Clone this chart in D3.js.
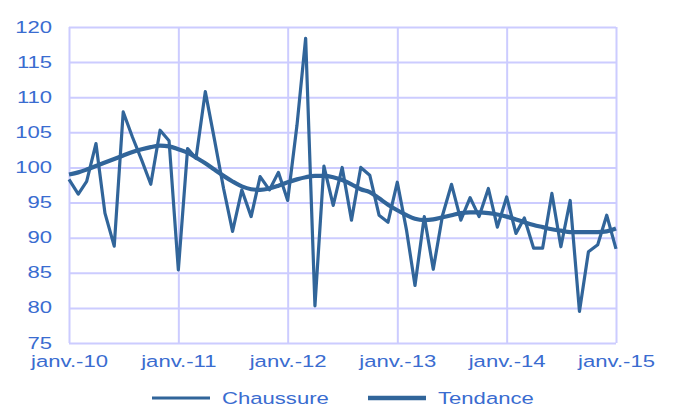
<!DOCTYPE html>
<html>
<head>
<meta charset="utf-8">
<script src="https://d3js.org/d3.v7.min.js"></script>
<style>
  body { margin: 0; background: #fff; }
  svg { display: block; font-family: "Liberation Sans", Arial, sans-serif; }
</style>
</head>
<body>
<div id="chart"></div>
<script>
// monthly index, janv. 2010 -> janv. 2015
var chaussure = [
  98.3, 96.2, 98.0, 103.4, 93.5, 88.8, 107.9, 104.3, 101.0, 97.6, 105.3, 103.8,
  85.4, 102.7, 101.3, 110.8, 104.1, 97.0, 90.9, 96.8, 93.0, 98.7, 96.8, 99.3,
  95.3, 106.0, 118.4, 80.3, 100.2, 94.6, 100.0, 92.5, 100.0, 98.9, 93.2, 92.2,
  97.9, 91.0, 83.2, 93.0, 85.5, 93.2, 97.6, 92.5, 95.7, 93.0, 97.0, 91.5,
  95.8, 90.6, 92.8, 88.5, 88.5, 96.3, 88.7, 95.3, 79.5, 88.0, 89.0, 93.2,
  88.4
];
var tendance = [
  99.0, 99.3, 99.7, 100.2, 100.7, 101.2, 101.7, 102.2, 102.6, 102.9, 103.1, 103.0,
  102.6, 102.1, 101.4, 100.6, 99.7, 98.8, 98.0, 97.3, 96.9, 96.8, 97.0, 97.4,
  97.9, 98.3, 98.6, 98.8, 98.8, 98.6, 98.2, 97.6, 96.9, 96.5, 95.6, 94.7,
  93.9, 93.2, 92.7, 92.5, 92.6, 92.9, 93.2, 93.5, 93.6, 93.6, 93.5, 93.3,
  93.0, 92.6, 92.2, 91.8, 91.5, 91.2, 91.0, 90.8, 90.8, 90.8, 90.8, 90.9,
  91.3
];
var xTickLabels = ["janv.-10", "janv.-11", "janv.-12", "janv.-13", "janv.-14", "janv.-15"];
var yTicks = [75, 80, 85, 90, 95, 100, 105, 110, 115, 120];
var seriesNames = ["Chaussure", "Tendance"];

var svgWidth = 674;
var svgHeight = 406;
var margin = { top: 27, right: 58, bottom: 63, left: 69 };
var width = svgWidth - margin.left - margin.right;
var height = svgHeight - margin.top - margin.bottom;

var lineColor = "#31659a";
var gridColor = "#ccccff";
var textColor = "#3a6cd0";
var stretch = "scale(1.3,1)";

var months = chaussure.map(function(d, i) { return new Date(2010, i, 1); });

var svg = d3.select("#chart")
  .append("svg")
  .attr("width", svgWidth)
  .attr("height", svgHeight);

var chartGroup = svg.append("g")
  .attr("transform", `translate(${margin.left}, ${margin.top})`);

var xScale = d3.scaleTime()
  .domain([months[0], months[months.length - 1]])
  .range([0, width]);

var yScale = d3.scaleLinear()
  .domain([75, 120])
  .range([height, 0]);

var xTickDates = xTickLabels.map(function(d, i) { return new Date(2010 + i, 0, 1); });

var bottomAxis = d3.axisBottom(xScale)
  .tickValues(xTickDates)
  .tickSize(-height)
  .tickPadding(12)
  .tickFormat(function(d, i) { return xTickLabels[i]; });

var leftAxis = d3.axisLeft(yScale)
  .tickValues(yTicks)
  .tickSize(-width)
  .tickPadding(13);

var xAxis = chartGroup.append("g")
  .attr("transform", `translate(0, ${height})`)
  .call(bottomAxis);

var yAxis = chartGroup.append("g")
  .call(leftAxis);

[xAxis, yAxis].forEach(function(ax) {
  ax.select(".domain").remove();
  ax.selectAll("line")
    .attr("stroke", gridColor)
    .attr("stroke-width", 2);
  ax.selectAll("text")
    .attr("fill", textColor)
    .attr("font-size", "17px")
    .attr("font-family", "'Liberation Sans', Arial, sans-serif");
});

xAxis.selectAll("text")
  .attr("transform", stretch);
yAxis.selectAll("text")
  .attr("dy", "0.3em")
  .attr("x", -13)
  .attr("transform", stretch);

var line = d3.line()
  .x(function(d, i) { return xScale(months[i]); })
  .y(function(d) { return yScale(d); });

var trendLine = d3.line()
  .x(function(d, i) { return xScale(months[i]); })
  .y(function(d) { return yScale(d); })
  .curve(d3.curveMonotoneX);

chartGroup.append("path")
  .datum(chaussure)
  .attr("fill", "none")
  .attr("stroke", lineColor)
  .attr("stroke-width", 3.2)
  .attr("stroke-linejoin", "round")
  .attr("d", line);

chartGroup.append("path")
  .datum(tendance)
  .attr("fill", "none")
  .attr("stroke", lineColor)
  .attr("stroke-width", 4.2)
  .attr("stroke-linejoin", "round")
  .attr("d", trendLine);

// legend
var legend = svg.append("g")
  .attr("transform", "translate(0, 398)");

var legendItems = [
  { name: seriesNames[0], x: 152, w: 2.8 },
  { name: seriesNames[1], x: 368, w: 4.5 }
];

legendItems.forEach(function(item) {
  legend.append("line")
    .attr("x1", item.x)
    .attr("x2", item.x + 58)
    .attr("y1", 0)
    .attr("y2", 0)
    .attr("stroke", lineColor)
    .attr("stroke-width", item.w);
  legend.append("text")
    .attr("transform", `translate(${item.x + 70}, 6) ${stretch}`)
    .attr("fill", textColor)
    .attr("font-size", "17px")
    .text(item.name);
});
</script>
</body>
</html>
